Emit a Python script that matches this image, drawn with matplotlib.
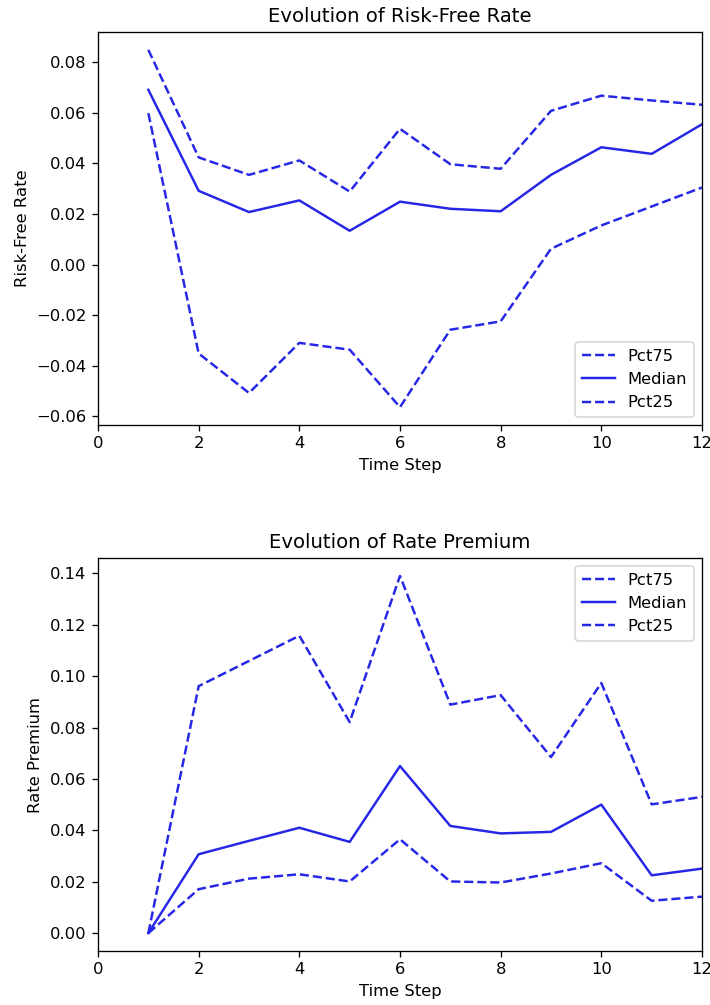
import numpy as np
import matplotlib
matplotlib.use("Agg")
import matplotlib.pyplot as plt

# tidssteg
steps = np.arange(1, 13)

# riskfri ränta, percentiler per tidssteg
rf_pct75 = [0.0849, 0.0424, 0.0355, 0.0412, 0.0289, 0.0537, 0.0397, 0.0379, 0.0608, 0.0668, 0.0649, 0.0632]
rf_median = [0.0691, 0.0292, 0.0208, 0.0254, 0.0134, 0.0249, 0.0221, 0.0211, 0.0355, 0.0464, 0.0438, 0.0555]
rf_pct25 = [0.0599, -0.0351, -0.0507, -0.0309, -0.0336, -0.0563, -0.0257, -0.0224, 0.0063, 0.0155, 0.0230, 0.0305]

# räntepremie
prem_pct75 = [0.0, 0.0961, 0.1059, 0.1157, 0.0821, 0.1390, 0.0889, 0.0926, 0.0685, 0.0973, 0.0501, 0.0530]
prem_median = [0.0, 0.0307, 0.0359, 0.0410, 0.0355, 0.0650, 0.0417, 0.0388, 0.0394, 0.0500, 0.0225, 0.0251]
prem_pct25 = [0.0, 0.0171, 0.0212, 0.0229, 0.0201, 0.0365, 0.0201, 0.0197, 0.0232, 0.0272, 0.0126, 0.0142]

col = (0.15, 0.15, 0.9)

dpi = 118
W, H = 710, 1005
fig = plt.figure(figsize=(W/dpi, H/dpi), dpi=dpi)
ax1 = fig.add_axes([98/W, 1-425/H, 604/W, 393/H])
ax2 = fig.add_axes([98/W, 1-951/H, 604/W, 393/H])

def rita(ax, p75, med, p25, titel, ylab, loc):
    ax.plot(steps, p75, '--', color=col, label="Pct75")
    ax.plot(steps, med, '-', color=col, label="Median")
    ax.plot(steps, p25, '--', color=col, label="Pct25")
    ax.set_xlim(0, 12)
    ax.set_title(titel)
    ax.set_xlabel("Time Step")
    ax.set_ylabel(ylab)
    ax.legend(loc=loc)

rita(ax1, rf_pct75, rf_median, rf_pct25, "Evolution of Risk-Free Rate", "Risk-Free Rate", "lower right")
rita(ax2, prem_pct75, prem_median, prem_pct25, "Evolution of Rate Premium", "Rate Premium", "upper right")

fig.savefig("out.png", dpi=dpi)
